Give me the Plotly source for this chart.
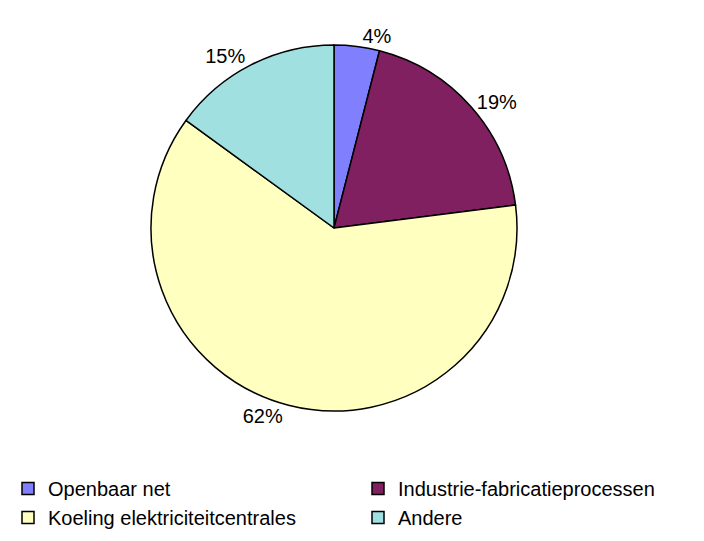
import plotly.graph_objects as go

labels = ["Openbaar net", "Industrie-fabricatieprocessen", "Koeling elektriciteitcentrales", "Andere"]
values = [4, 19, 62, 15]
colors = ["#8080FF", "#802060", "#FFFFC0", "#A0E0E0"]

W, H = 704, 541
cx, cy, half = 326, 220, 183

fig = go.Figure(go.Pie(
    labels=labels, values=values, sort=False, direction="clockwise", rotation=0,
    marker=dict(colors=colors, line=dict(color="black", width=1.5)),
    textinfo="percent", textposition="outside",
    texttemplate="%{percent:.0%}",
    textfont=dict(family="Liberation Sans, Arial", size=20, color="black"),
    domain=dict(x=[(cx - half) / W, (cx + half) / W], y=[max(0, 1 - (cy + half) / H), min(1, 1 - (cy - half) / H)]),
    showlegend=True,
))
fig.update_layout(
    width=W, height=H, margin=dict(l=0, r=0, t=0, b=0),
    paper_bgcolor="white", plot_bgcolor="white",
    font=dict(family="Liberation Sans, Arial", color="black", size=20),
    legend=dict(orientation="h", x=0.0, y=0.148, xanchor="left", yanchor="top",
                entrywidth=305, entrywidthmode="pixels", font=dict(size=20),
                itemwidth=30, traceorder="normal"),
)
fig.write_html("out.html")
